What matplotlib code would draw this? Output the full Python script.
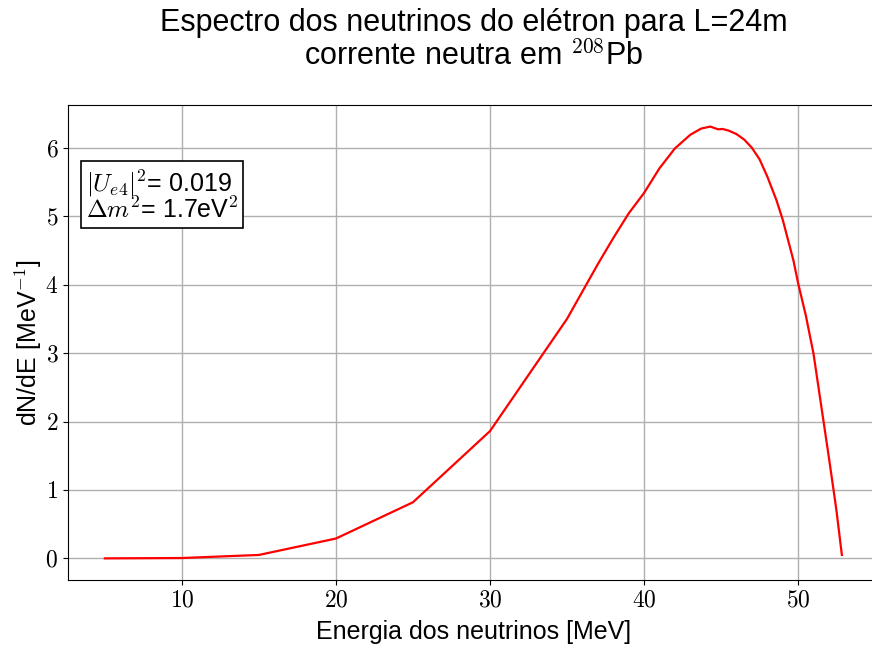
import matplotlib
matplotlib.use('Agg')
from matplotlib import pyplot as plt
from matplotlib.ticker import FuncFormatter

# energia (MeV) e espectro dN/dE (MeV^-1)
energia = [5, 10, 15, 20, 25, 30, 35, 36, 37, 38, 39, 40, 41, 42, 43, 43.7,
           44.3, 44.8, 45.1, 45.5, 46, 46.5, 47, 47.5, 48, 48.6, 49, 49.7,
           50, 50.5, 51, 51.5, 52, 52.3, 52.5, 52.84]
espectro = [0.0, 0.005, 0.05, 0.29, 0.82, 1.86, 3.50, 3.90, 4.30, 4.68, 5.04,
            5.34, 5.70, 5.99, 6.19, 6.28, 6.31, 6.27, 6.275, 6.25, 6.20, 6.12,
            6.00, 5.83, 5.58, 5.23, 4.95, 4.35, 4.02, 3.55, 2.99, 2.23, 1.47,
            1.00, 0.68, 0.05]

plt.rcParams['mathtext.fontset'] = 'cm'
plt.rcParams['font.family'] = ['Liberation Sans', 'DejaVu Sans']

fig = plt.figure(figsize=(8.72, 6.48), dpi=100)
ax = fig.add_axes([0.078, 0.105, 0.9297, 0.733])
ax.grid(True, color='#b0b0b0', lw=1)
ax.set_axisbelow(True)

ax.plot(energia, espectro, '-', color='red', lw=1.6)

ax.set_xticks([10, 20, 30, 40, 50])
ax.set_yticks([0, 1, 2, 3, 4, 5, 6])
fmt = FuncFormatter(lambda v, p: r'$%g$' % v)
ax.xaxis.set_major_formatter(fmt)
ax.yaxis.set_major_formatter(fmt)
ax.tick_params(labelsize=17)

ax.set_xlabel('Energia dos neutrinos [MeV]', fontsize=18, labelpad=6)
ax.set_ylabel(r'dN/dE [MeV$^{-1}$]', fontsize=18, labelpad=1)
ax.set_title('Espectro dos neutrinos do elétron para L=24m\n'
             r'corrente neutra em $^{208}$Pb', fontsize=22, pad=29,
             linespacing=1.1)

ax.text(0.022, 0.866, r'$|U_{e4}|^2$= 0.019' + '\n' + r'$\Delta m^2$= 1.7eV$^2$',
        transform=ax.transAxes, fontsize=18, va='top', ha='left',
        linespacing=0.9,
        bbox=dict(boxstyle='square,pad=0.2', fc='white', ec='black', lw=1.2))

fig.savefig('out.png', dpi=100)
